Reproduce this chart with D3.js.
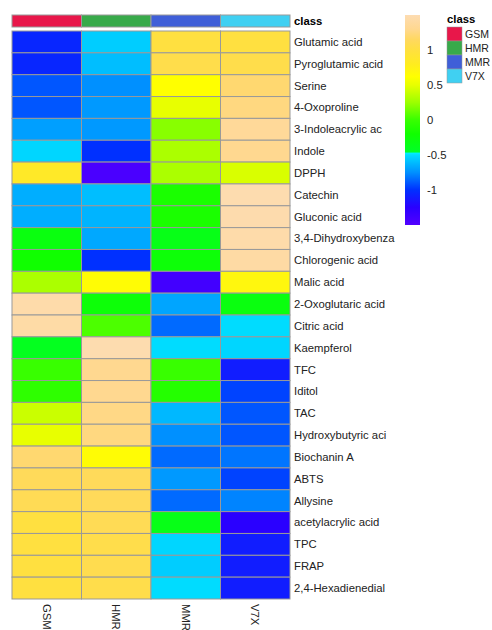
<!DOCTYPE html>
<html>
<head>
<meta charset="utf-8">
<script src="https://cdn.jsdelivr.net/npm/d3@7"></script>
<style>
  html, body { margin: 0; padding: 0; background: #ffffff; }
  svg { display: block; font-family: "Liberation Sans", Arial, Helvetica, sans-serif; }
</style>
</head>
<body>
<svg id="chart" width="492" height="630"></svg>
<script>
// Sample groups (columns) and their annotation colours
const groups = ["GSM", "HMR", "MMR", "V7X"];
const groupColors = ["#e8174a", "#38aa4a", "#3f5fd8", "#40d0f2"];

// Compounds / assays (rows, top to bottom)
const compounds = [
  "Glutamic acid", "Pyroglutamic acid", "Serine", "4-Oxoproline",
  "3-Indoleacrylic ac", "Indole", "DPPH", "Catechin", "Gluconic acid",
  "3,4-Dihydroxybenza", "Chlorogenic acid", "Malic acid",
  "2-Oxoglutaric acid", "Citric acid", "Kaempferol", "TFC", "Iditol",
  "TAC", "Hydroxybutyric aci", "Biochanin A", "ABTS", "Allysine",
  "acetylacrylic acid", "TPC", "FRAP", "2,4-Hexadienedial"
];

// Row-scaled (z-score) values per group, same order as compounds
const gsmValues = [-1.05, -1.05, -0.9, -0.9, -0.7, -0.52, 0.85, -0.65, -0.65, -0.3,
  -0.2, 0.3, 1.45, 1.43, -0.4, 0.0, -0.05, 0.4, 0.5, 1.2, 1.12, 1.1, 1.0, 1.0, 1.0, 1.0];
const hmrValues = [-0.55, -0.6, -0.75, -0.72, -0.72, -1.0, -1.45, -0.6, -0.63, -0.67,
  -1.0, 0.65, -0.25, 0.05, 1.48, 1.3, 1.3, 1.27, 1.25, 0.65, 1.12, 1.12, 1.1, 1.05, 1.07, 1.05];
const mmrValues = [1.0, 1.05, 0.62, 0.5, 0.2, 0.3, 0.3, -0.15, -0.15, -0.35,
  -0.25, -1.4, -0.68, -0.85, -0.5, 0.0, -0.1, -0.62, -0.75, -0.85, -0.72, -0.85, -0.35, -0.52, -0.55, -0.5];
const v7xValues = [1.0, 1.05, 1.2, 1.25, 1.35, 1.3, 0.45, 1.48, 1.47, 1.45,
  1.42, 0.7, -0.3, -0.5, -0.52, -1.1, -0.95, -0.9, -0.9, -0.82, -0.95, -0.78, -1.25, -1.1, -1.1, -1.1];

// Colour key ticks
const legendTicks = [1, 0.5, 0, -0.5, -1];

// Colour ramp stops (value -> colour)
const rampValues = [-1.5, -1.25, -1.0, -0.75, -0.5, -0.47, -0.46, -0.2, 0.0, 0.25, 0.5, 0.62, 0.8, 1.0, 1.15, 1.3, 1.5];
const rampColors = ["#5200ff", "#2a00ff", "#0030ff", "#0090ff", "#00dcff", "#00f0ff", "#00ff28",
  "#10ff00", "#38ff00", "#9cff00", "#e8ff00", "#ffff00", "#ffec20", "#ffe040", "#ffd860", "#ffd890", "#fddcb2"];

const seriesByGroup = [gsmValues, hmrValues, mmrValues, v7xValues];
const cells = [];
compounds.forEach((c, i) => {
  groups.forEach((g, j) => cells.push({ row: c, col: g, value: seriesByGroup[j][i] }));
});

const svg = d3.select("#chart");
const color = d3.scaleLinear().domain(rampValues).range(rampColors).clamp(true);

const x = d3.scaleBand().domain(groups).range([12, 290]);
const y = d3.scaleBand().domain(compounds).range([31, 599]);
const borderColor = "#999999";
const textColor = "#222222";
const fontSize = 11.3;

// Annotation bar
svg.append("g").selectAll("rect")
  .data(groups)
  .join("rect")
  .attr("x", d => x(d))
  .attr("y", 15)
  .attr("width", x.bandwidth())
  .attr("height", 12)
  .attr("fill", (d, i) => groupColors[i])
  .attr("stroke", borderColor)
  .attr("stroke-width", 1);

svg.append("text")
  .attr("x", 294).attr("y", 21)
  .attr("dy", "0.35em")
  .attr("font-size", fontSize).attr("font-weight", "bold")
  .attr("fill", "#000")
  .text("class");

// Heatmap cells
svg.append("g").selectAll("rect")
  .data(cells)
  .join("rect")
  .attr("x", d => x(d.col))
  .attr("y", d => y(d.row))
  .attr("width", x.bandwidth())
  .attr("height", y.bandwidth())
  .attr("fill", d => color(d.value))
  .attr("stroke", borderColor)
  .attr("stroke-width", 1);

// Row labels
svg.append("g").selectAll("text")
  .data(compounds)
  .join("text")
  .attr("x", 294)
  .attr("y", d => y(d) + y.bandwidth() / 2)
  .attr("dy", "0.35em")
  .attr("font-size", fontSize)
  .attr("fill", textColor)
  .text(d => d);

// Column labels, rotated to read downwards
svg.append("g").selectAll("text")
  .data(groups)
  .join("text")
  .attr("transform", d => `translate(${x(d) + x.bandwidth() / 2},604) rotate(90)`)
  .attr("dy", "0.35em")
  .attr("font-size", fontSize)
  .attr("fill", textColor)
  .text(d => d);

// Colour key
const keyScale = d3.scaleLinear().domain([-1.5, 1.5]).range([225, 15]);
const defs = svg.append("defs");
const grad = defs.append("linearGradient")
  .attr("id", "keyGrad")
  .attr("x1", 0).attr("y1", 1).attr("x2", 0).attr("y2", 0);
grad.selectAll("stop")
  .data(rampValues)
  .join("stop")
  .attr("offset", d => (d + 1.5) / 3)
  .attr("stop-color", (d, i) => rampColors[i]);

svg.append("rect")
  .attr("x", 405).attr("y", keyScale(1.5))
  .attr("width", 15).attr("height", keyScale(-1.5) - keyScale(1.5))
  .attr("fill", "url(#keyGrad)");

svg.append("g").selectAll("text")
  .data(legendTicks)
  .join("text")
  .attr("x", 427)
  .attr("y", d => keyScale(d))
  .attr("dy", "0.35em")
  .attr("font-size", fontSize)
  .attr("fill", textColor)
  .text(d => String(d));

// Class legend
const legend = svg.append("g").attr("transform", "translate(447,0)");
legend.append("text")
  .attr("x", 0).attr("y", 19)
  .attr("dy", "0.35em")
  .attr("font-size", fontSize).attr("font-weight", "bold")
  .attr("fill", "#000")
  .text("class");
legend.selectAll("rect")
  .data(groups)
  .join("rect")
  .attr("x", 0)
  .attr("y", (d, i) => 27 + i * 14)
  .attr("width", 15).attr("height", 14)
  .attr("fill", (d, i) => groupColors[i])
  .attr("stroke", borderColor)
  .attr("stroke-width", 0.5);
legend.selectAll("text.lab")
  .data(groups)
  .join("text")
  .attr("class", "lab")
  .attr("x", 18)
  .attr("y", (d, i) => 34 + i * 14)
  .attr("dy", "0.35em")
  .attr("font-size", 10.5)
  .attr("fill", textColor)
  .text(d => d);
</script>
</body>
</html>
